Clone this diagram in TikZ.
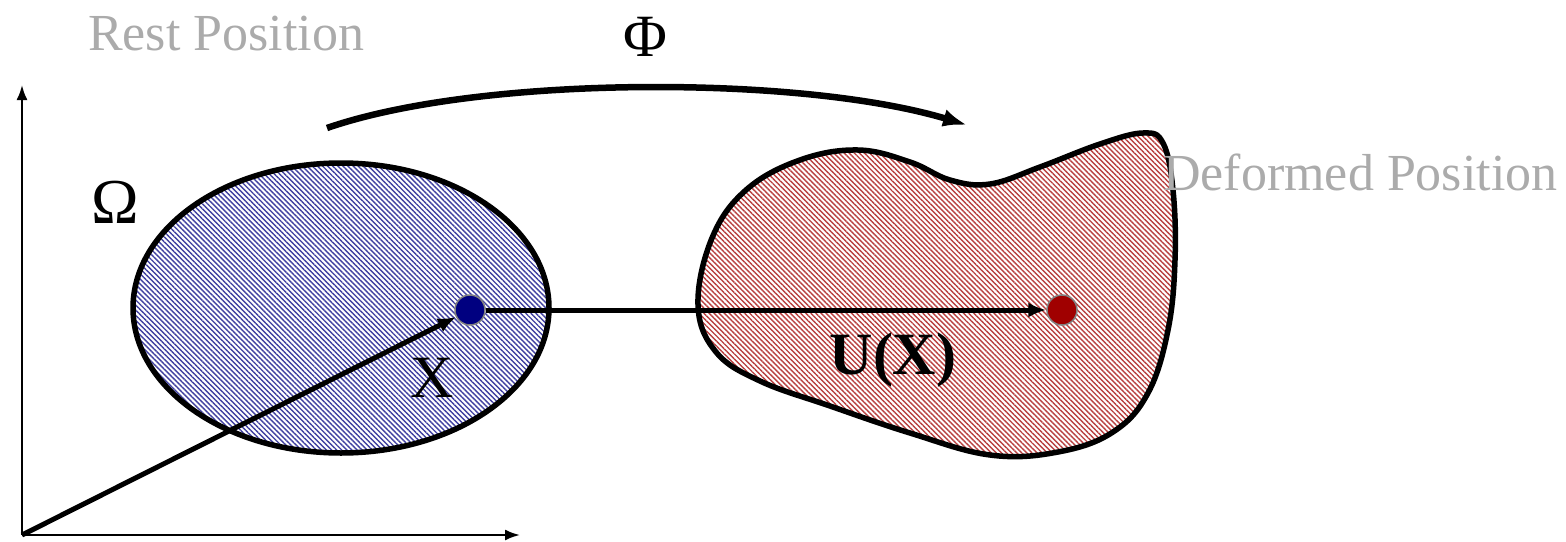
\documentclass[tikz,border=0pt]{standalone}
\usepackage{fontspec}
\setmainfont{Liberation Serif}
\usetikzlibrary{arrows.meta,patterns.meta,shapes.geometric}
\definecolor{navyb}{HTML}{000080}
\definecolor{darkr}{HTML}{A00000}
\definecolor{lgray}{HTML}{ABABAB}
\tikzset{
  hatchblue/.style={pattern={Lines[angle=-45,distance=3.6pt,line width=1.4pt]},pattern color=navyb!75},
  hatchred/.style={pattern={Lines[angle=-45,distance=3.6pt,line width=1.4pt]},pattern color=darkr!75},
  outline/.style={draw=black,line width=5.5pt},
  dot/.style={circle,minimum size=30pt,inner sep=0pt,draw=gray,line width=1.5pt},
  graylabel/.style={text=lgray,font=\fontsize{52}{52}\selectfont,inner sep=0pt,anchor=base west},
  biglabel/.style={font=\fontsize{60}{60}\selectfont,inner sep=0pt},
  axis/.style={line width=2.2pt,-{Latex[length=15pt,width=11pt]}},
  vec/.style={line width=5pt,-{Latex[length=18pt,width=15pt]}},
  phiarrow/.style={line width=6.5pt,-{Latex[length=24pt,width=18pt]}},
}
\begin{document}
\begin{tikzpicture}[x=1pt,y=-1pt]
\useasboundingbox (0,0) rectangle (1566,541);
% axes
\coordinate (O) at (22,535);
\coordinate (ytip) at (22,85);
\coordinate (xtip) at (520,535);
\draw[axis] (O) -- (ytip);
\draw[axis] (O) -- (xtip);
% rest domain
\node[ellipse,minimum width=416pt,minimum height=290pt,inner sep=0pt,outline,hatchblue] (omega) at (341,308) {};
% deformed domain
\draw[outline,hatchred] plot[smooth cycle,tension=0.65] coordinates {
 (698,305) (712,238) (746,190) (800,160) (858,150) (910,162) (950,180) (990,184)
 (1040,167) (1100,144) (1143,133) (1163,143) (1173,190) (1175,260) (1168,330)
 (1148,393) (1113,432) (1058,452) (990,455) (910,433) (830,406) (760,381) (716,352)};
% dots
\node[dot,fill=navyb] (P) at (470,310) {};
\node[dot,fill=darkr] (Q) at (1062,310) {};
% vectors
\draw[vec] (O) -- (P);
\draw[vec] (P) -- (Q);
% Phi arrow
\coordinate (phiS) at (327,128);
\coordinate (phiE) at (967,125);
\draw[phiarrow] (phiS) .. controls (480,75) and (800,75) .. (phiE);
% labels
\node[graylabel] (rest) at (88,50) {Rest Position};
\node[graylabel] (def) at (1163,190) {Deformed Position};
\node[biglabel] (phi) at (645,37) {Φ};
\node[biglabel,font=\fontsize{64}{64}\selectfont] (om) at (115,202) {Ω};
\node[biglabel] (xl) at (432,378) {X};
\node[biglabel] (ux) at (893,360) {\textbf{U(X)}};
\end{tikzpicture}
\end{document}
